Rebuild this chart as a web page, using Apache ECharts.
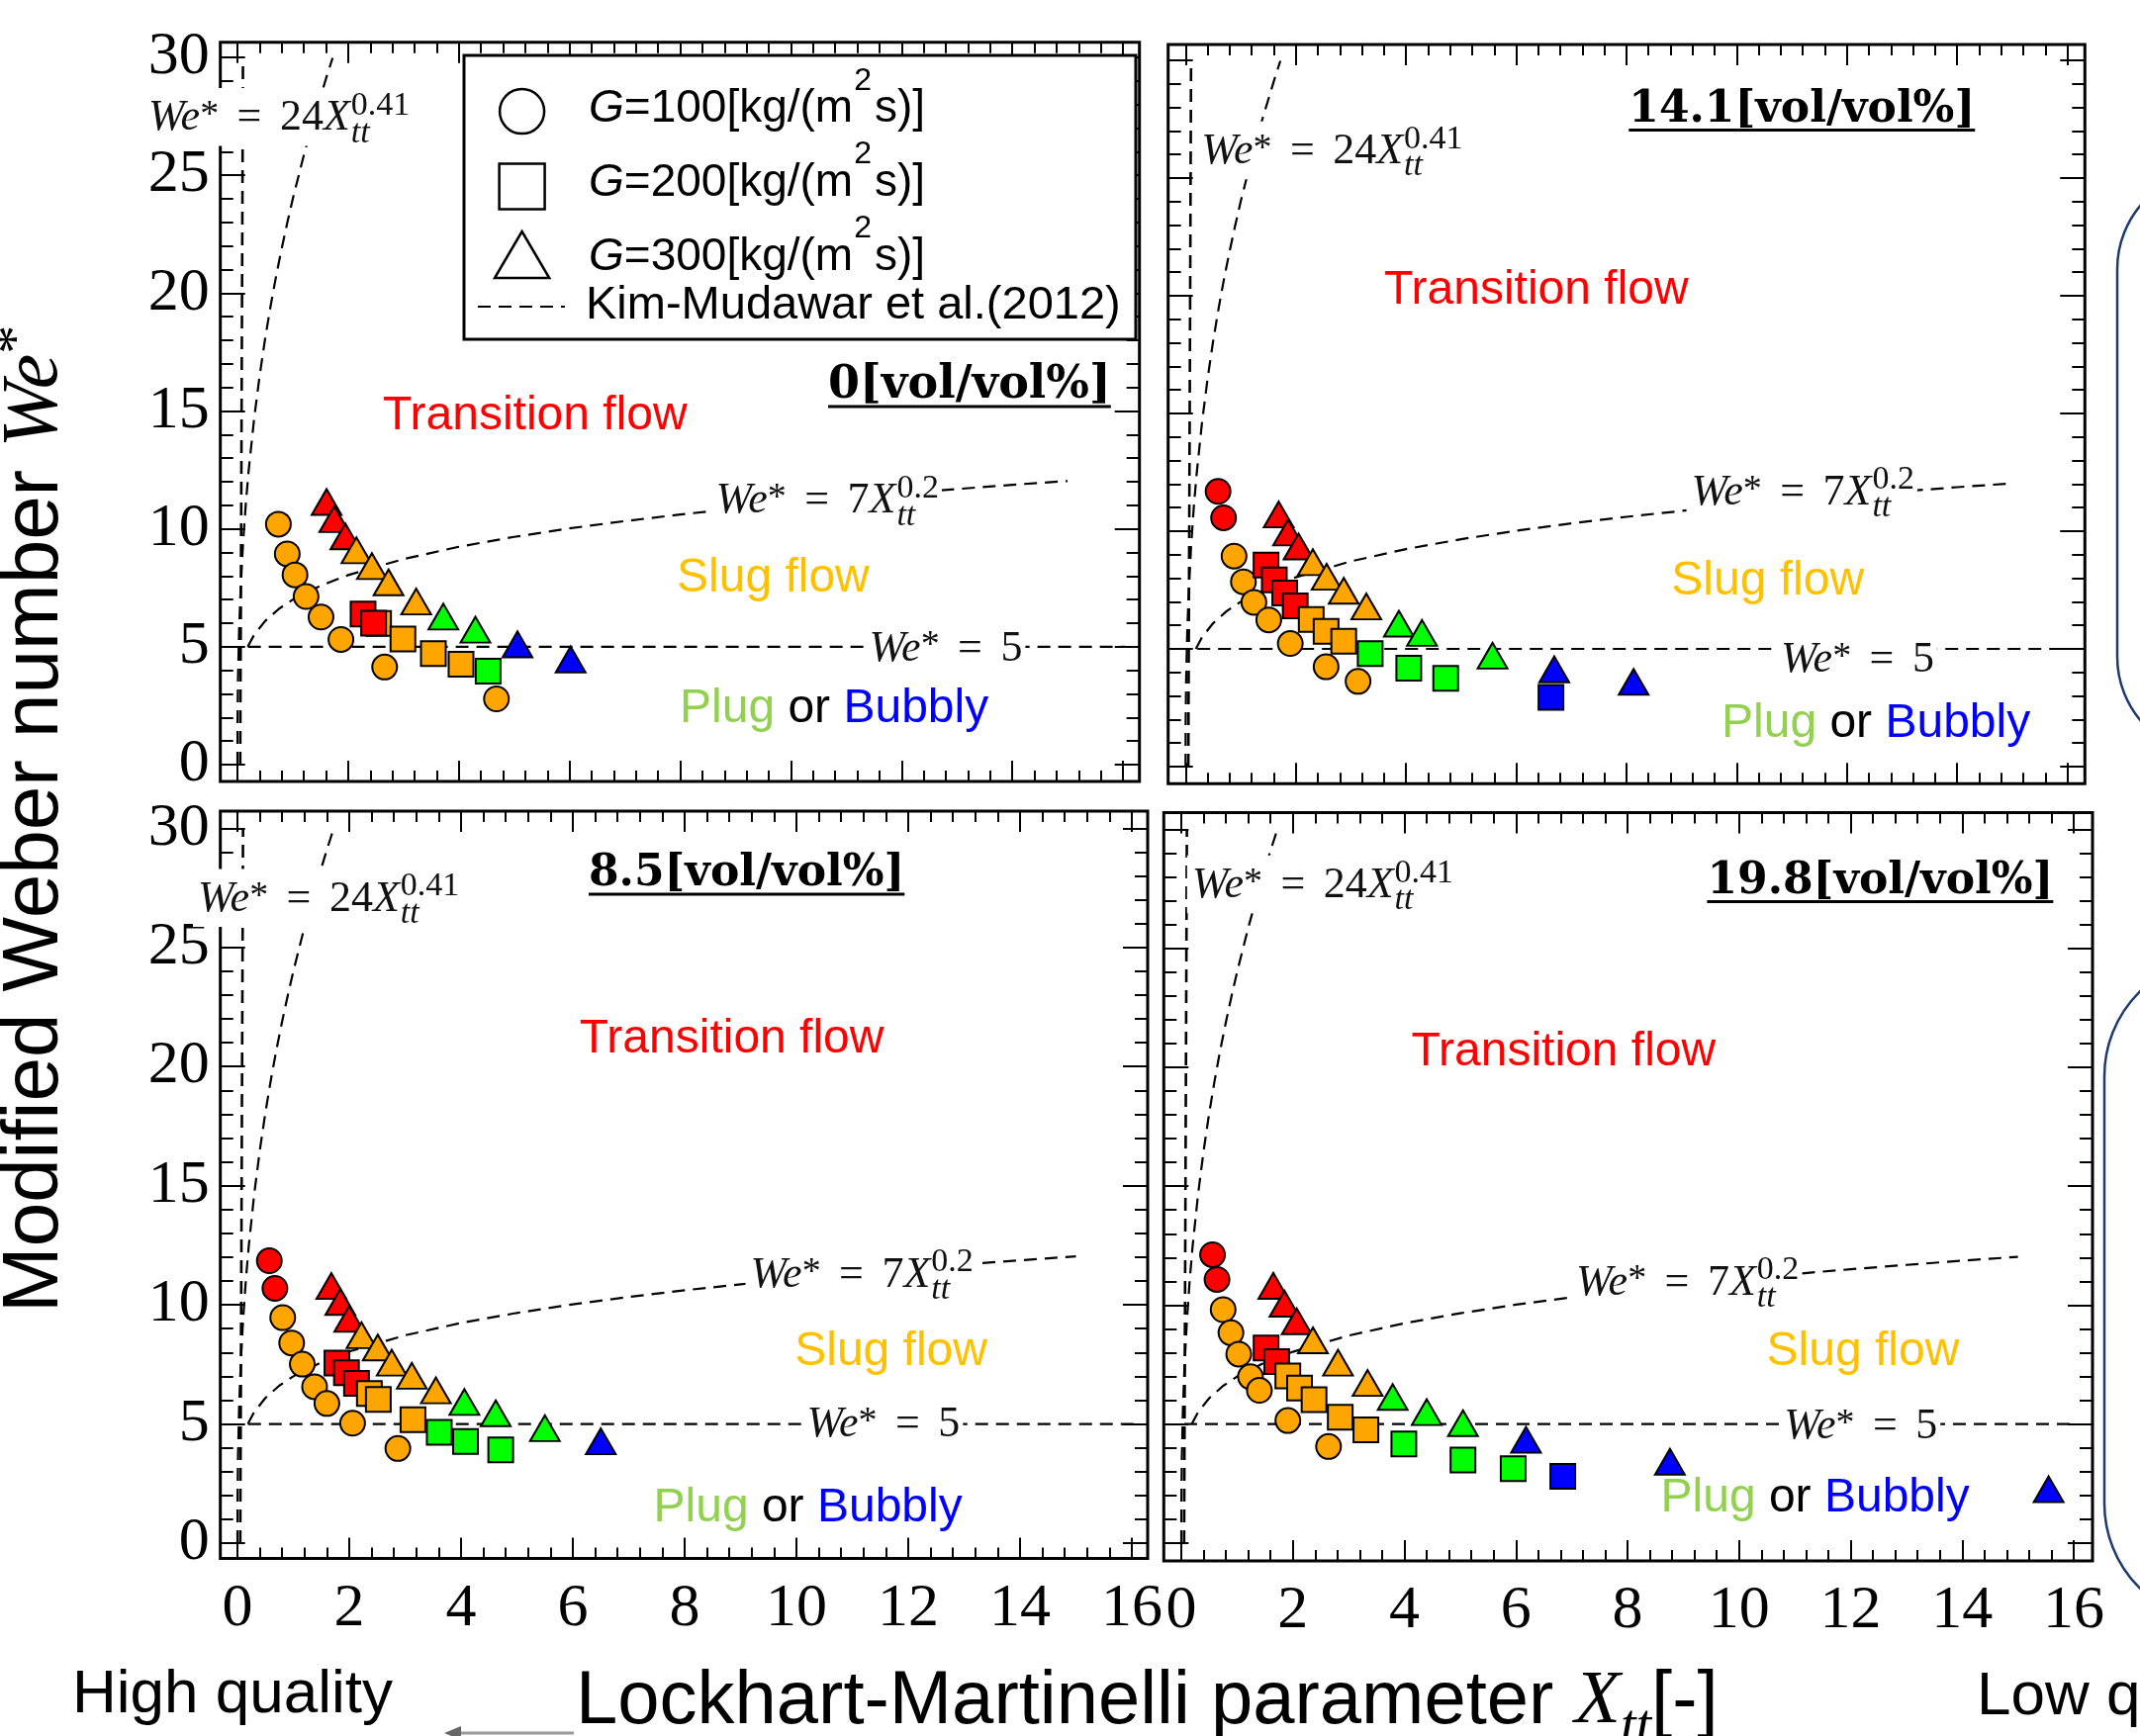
<!DOCTYPE html>
<html>
<head>
<meta charset="utf-8">
<script src="https://cdn.jsdelivr.net/npm/echarts@6.0.0/dist/echarts.min.js"></script>
<style>
html,body{margin:0;padding:0;background:#fff;}
#chart{width:2163px;height:1755px;}
</style>
</head>
<body>
<div id="chart"></div>
<script>
// ---------------- tick labels ----------------
const xTickLabels = [0, 2, 4, 6, 8, 10, 12, 14, 16];
const yTickLabels = [0, 5, 10, 15, 20, 25, 30];

// ---------------- data: [X_tt, We*, regime] ----------------
// regime: T = transition, S = slug, P = plug, B = bubbly
// 0 vol/vol%
const tl_G100 = [[0.74,10.2,'S'],[0.90,8.94,'S'],[1.04,8.05,'S'],[1.24,7.13,'S'],[1.51,6.26,'S'],[1.87,5.31,'S'],[2.66,4.14,'S'],[4.68,2.79,'S']];
const tl_G200 = [[2.55,5.99,'S'],[2.27,6.39,'T'],[2.46,6.00,'T'],[2.99,5.33,'S'],[3.54,4.71,'S'],[4.04,4.26,'S'],[4.53,3.97,'P']];
const tl_G300 = [[1.61,11.14,'T'],[1.75,10.41,'T'],[1.95,9.68,'T'],[2.15,9.09,'S'],[2.43,8.42,'S'],[2.73,7.73,'S'],[3.23,6.92,'S'],[3.72,6.28,'P'],[4.30,5.72,'P'],[5.06,5.10,'B'],[6.02,4.46,'B']];
// 14.1 vol/vol%
const tr_G100 = [[0.59,11.69,'T'],[0.69,10.57,'T'],[0.88,8.94,'S'],[1.05,7.85,'S'],[1.24,6.98,'S'],[1.51,6.23,'S'],[1.90,5.23,'S'],[2.55,4.24,'S'],[3.13,3.62,'S']];
const tr_G200 = [[1.46,8.56,'T'],[1.61,7.93,'T'],[1.80,7.37,'T'],[1.99,6.83,'T'],[2.28,6.25,'S'],[2.55,5.75,'S'],[2.87,5.33,'S'],[3.35,4.80,'P'],[4.05,4.18,'P'],[4.72,3.75,'P'],[6.63,2.94,'B']];
const tr_G300 = [[1.69,10.71,'T'],[1.86,9.94,'T'],[2.05,9.35,'T'],[2.31,8.68,'S'],[2.56,8.06,'S'],[2.87,7.47,'S'],[3.28,6.80,'S'],[3.87,6.07,'P'],[4.29,5.68,'P'],[5.57,4.71,'P'],[6.69,4.13,'B'],[8.13,3.60,'B']];
// 8.5 vol/vol%
const bl_G100 = [[0.57,11.85,'T'],[0.67,10.69,'T'],[0.81,9.46,'S'],[0.97,8.40,'S'],[1.16,7.51,'S'],[1.38,6.56,'S'],[1.60,5.86,'S'],[2.06,5.03,'S'],[2.87,3.97,'S']];
const bl_G200 = [[1.78,7.55,'T'],[1.95,7.15,'T'],[2.13,6.70,'T'],[2.36,6.28,'S'],[2.52,6.03,'S'],[3.14,5.18,'S'],[3.61,4.65,'P'],[4.08,4.27,'P'],[4.71,3.91,'P']];
const bl_G300 = [[1.68,10.79,'T'],[1.84,10.12,'T'],[2.00,9.41,'T'],[2.22,8.72,'S'],[2.51,8.21,'S'],[2.76,7.57,'S'],[3.12,7.02,'S'],[3.55,6.41,'S'],[4.06,5.92,'P'],[4.62,5.45,'P'],[5.50,4.82,'P'],[6.50,4.27,'B']];
// 19.8 vol/vol%
const br_G100 = [[0.56,12.12,'T'],[0.64,11.08,'T'],[0.75,9.81,'S'],[0.89,8.84,'S'],[1.03,7.94,'S'],[1.24,6.99,'S'],[1.40,6.42,'S'],[1.91,5.15,'S'],[2.64,4.06,'S']];
const br_G200 = [[1.52,8.20,'T'],[1.71,7.63,'T'],[1.91,7.03,'S'],[2.12,6.52,'S'],[2.38,6.03,'S'],[2.85,5.29,'S'],[3.31,4.76,'S'],[3.99,4.17,'P'],[5.05,3.49,'P'],[5.95,3.13,'P'],[6.84,2.81,'B']];
const br_G300 = [[1.65,10.81,'T'],[1.85,10.06,'T'],[2.07,9.32,'T'],[2.36,8.52,'S'],[2.81,7.58,'S'],[3.34,6.73,'S'],[3.79,6.14,'P'],[4.40,5.50,'P'],[5.05,5.04,'P'],[6.18,4.34,'B'],[8.76,3.42,'B'],[15.55,2.26,'B']];

// Kim-Mudawar (2012) boundary lines
const kim24 = [[0,0],[0.002,1.88],[0.01,3.63],[0.03,5.70],[0.06,7.57],[0.1,9.34],[0.15,11.03],[0.2,12.41],[0.3,14.65],[0.4,16.48],[0.5,18.07],[0.6,19.47],[0.7,20.74],[0.8,21.90],[0.9,22.98],[1.0,24.0],[1.2,25.86],[1.4,27.55],[1.6,29.10],[1.72,29.98]];
const kim7 = [[0.186,5.0],[0.3,5.50],[0.5,6.09],[0.75,6.61],[1,7.0],[1.5,7.59],[2,8.04],[3,8.72],[4,9.24],[5,9.66],[6,10.02],[7,10.33],[8,10.61],[9,10.86],[10,11.09],[11,11.31],[12,11.51],[13,11.69],[14,11.87],[15,12.03]];
const kimV = [[0.05,0],[0.1,30]];
const tl_we5 = [[0.19,5],[16.3,5]];
const tr_we5 = [[-0.54,5],[16.32,5]];
const bl_we5 = [[0.19,5],[16.28,5]];
const br_we5 = [[-0.32,5],[16.33,5]];

const panelNames = ['0', '14.1', '8.5', '19.8'];
const regimeColor = {T:'#ff0000', S:'#ffa500', P:'#00ff00', B:'#0000ff'};

// ---------------- layout ----------------
const SERIF = 'Liberation Serif', SANS = 'Liberation Sans', DSERIF = 'DejaVu Serif';
const K = 0.30; // middle-to-baseline factor (em)
const ctx = document.createElement('canvas').getContext('2d');
function fontStr(it){ return (it.style||'normal')+' '+(it.weight||'normal')+' '+it.size+'px "'+it.fam+'"'; }
function tw(it){ ctx.font = fontStr(it); return ctx.measureText(it.t).width; }
const gfx = [];
function textEl(it, x, y, rot){
  const e = {type:'text', x:x, y:y, z:12, silent:true,
    style:{text:it.t, fill:it.color||'#000', font:fontStr(it), align:'left', verticalAlign:'middle'}};
  if (rot) e.rotation = rot;
  return e;
}
function run(items, x0, yb){
  let x = x0;
  for (const it of items){
    x += (it.gap||0);
    if (it.stack){
      let w = 0;
      for (const s of it.stack){ gfx.push(textEl(s, x, yb-(s.rise||0)-K*s.size)); w = Math.max(w, tw(s)); }
      x += w;
    } else {
      gfx.push(textEl(it, x, yb-(it.rise||0)-K*it.size));
      x += tw(it);
    }
  }
  return x;
}
function runV(items, xb, y0){
  let y = y0;
  for (const it of items){
    y -= (it.gap||0);
    gfx.push(textEl(it, xb-(it.rise||0)-K*it.size, y, Math.PI/2));
    y -= tw(it);
  }
}
function formula(kind, x0, yb){
  const s = 44, ss = 34, c = '#111';
  const items = [
    {t:'We', size:s, fam:SERIF, style:'italic', color:c},
    {t:'*', size:ss+4, fam:SERIF, rise:0.1*s, color:c},
    {t:'=', size:s, fam:SERIF, gap:0.42*s, color:c},
    {t:kind, size:s, fam:SERIF, gap:0.42*s, color:c}
  ];
  if (kind !== '5'){
    items.push({t:'X', size:s, fam:SERIF, style:'italic', color:c});
    items.push({gap:1, stack:[
      {t:kind==='24'?'0.41':'0.2', size:ss, fam:SERIF, rise:0.36*s, color:c},
      {t:'tt', size:ss, fam:SERIF, style:'italic', rise:-0.27*s, color:c}]});
  }
  const start = gfx.length;
  const x1 = run(items, x0, yb);
  const top = yb - (kind==='5'?0.8:1.0)*s, bot = yb + (kind==='5'?0.22:0.33)*s;
  gfx.splice(start, 0, {type:'rect', z:9, silent:true, shape:{x:x0-5, y:top, width:x1-x0+8, height:bot-top}, style:{fill:'#fff'}});
}

const panels = [
  {grid:[240,58,1135,773], frame:[222.7,42.7,1151.7,790], xl:false, yl:true, d:[tl_G100,tl_G200,tl_G300], we5:tl_we5,
   f24:[150,133], f7:[723.6,520], f5:[878.5,669.3], title:[837,404], tsize:46, trans:[387,435.5], slug:[684,599.6], plug:[687,731]},
  {grid:[1198.3,61,2089.6,775], frame:[1180.7,44.9,2107.3,792.3], xl:false, yl:false, d:[tr_G100,tr_G200,tr_G300], we5:tr_we5,
   f24:[1214.3,166.8], f7:[1709.6,511.6], f5:[1800,680.7], title:[1646.3,124.5], tsize:44, trans:[1399,308.6], slug:[1689.3,602], plug:[1740,746]},
  {grid:[240,837.3,1144,1560], frame:[222.7,820,1160,1575.5], xl:true, yl:true, d:[bl_G100,bl_G200,bl_G300], we5:bl_we5,
   f24:[200,922.4], f7:[758.5,1302.6], f5:[815.4,1454], title:[595,897], tsize:44, trans:[585.8,1065.3], slug:[803.2,1381.6], plug:[660.5,1538.8]},
  {grid:[1194,838.3,2096,1560], frame:[1176.3,821.4,2115,1578], xl:true, yl:false, d:[br_G100,br_G200,br_G300], we5:br_we5,
   f24:[1204.8,908.7], f7:[1593,1310.2], f5:[1803.3,1455.6], title:[1725.4,904.6], tsize:44, trans:[1426.5,1078], slug:[1785.6,1381.6], plug:[1678.5,1529.6]}
];

const grids = [], xAxes = [], yAxes = [], series = [];
const symbols = [['circle',25],['rect',25],['triangle',[30,26]]];

panels.forEach((p, i) => {
  const [gx0, gy30, gx16, gy0] = p.grid;
  const [fx0, fy0, fx1, fy1] = p.frame;
  grids.push({left:gx0, top:gy30, width:gx16-gx0, height:gy0-gy30, containLabel:false, outerBoundsMode:'none'});
  const ax = (isX, lab) => ({
    type:'value', gridIndex:i,
    min: isX ? xTickLabels[0] : yTickLabels[0],
    max: isX ? xTickLabels[xTickLabels.length-1] : yTickLabels[yTickLabels.length-1],
    interval: isX ? xTickLabels[1]-xTickLabels[0] : yTickLabels[1]-yTickLabels[0],
    axisLine:{show:false, onZero:false}, splitLine:{show:false}, minorSplitLine:{show:false},
    axisTick:{show:true, inside:true, length:isX?21:25, lineStyle:{color:'#000', width:2}},
    minorTick:{show:true, splitNumber:5, length:isX?11:13, lineStyle:{color:'#000', width:2}},
    axisLabel:{show:lab, margin:isX?20:11, fontFamily:SERIF, fontSize:62, color:'#000', showMinLabel:true, showMaxLabel:true},
    silent:true
  });
  xAxes.push(Object.assign(ax(true, p.xl), {position:'bottom', offset:fy1-gy0}));
  xAxes.push(Object.assign(ax(true, false), {position:'top', offset:gy30-fy0}));
  yAxes.push(Object.assign(ax(false, p.yl), {position:'left', offset:gx0-fx0}));
  yAxes.push(Object.assign(ax(false, false), {position:'right', offset:fx1-gx16}));
  const xi = 2*i, yi = 2*i;
  [kimV, kim24, kim7, p.we5].forEach((d, k) => series.push({
    type:'line', xAxisIndex:xi, yAxisIndex:yi, data:d, symbol:'none', showSymbol:false, clip:false, silent:true,
    lineStyle:{color:'#000', width:k===0?2.6:2.2, type:[13,8]}, z:1, animation:false
  }));
  p.d.forEach((d, k) => series.push({
    type:'scatter', xAxisIndex:xi, yAxisIndex:yi, data:d, symbol:symbols[k][0], symbolSize:symbols[k][1],
    itemStyle:{color:(q)=>regimeColor[q.data[2]], borderColor:'#000', borderWidth:2, opacity:1},
    emphasis:{disabled:true}, silent:true, z:3, animation:false
  }));
  // frame
  gfx.push({type:'rect', z:5, silent:true, shape:{x:fx0, y:fy0, width:fx1-fx0, height:fy1-fy0}, style:{fill:'none', stroke:'#000', lineWidth:3}});
  // region labels
  run([{t:'Transition flow', size:48, fam:SANS, color:'#ff0000'}], p.trans[0], p.trans[1]);
  run([{t:'Slug flow', size:48, fam:SANS, color:'#ffc000'}], p.slug[0], p.slug[1]);
  run([{t:'Plug ', size:48, fam:SANS, color:'#92d050'},{t:'or ', size:48, fam:SANS, color:'#000'},{t:'Bubbly', size:48, fam:SANS, color:'#0000ff'}], p.plug[0], p.plug[1]);
  // formulas
  formula('24', p.f24[0], p.f24[1]);
  formula('7', p.f7[0], p.f7[1]);
  formula('5', p.f5[0], p.f5[1]);
  // panel title
  const tx1 = run([{t:panelNames[i]+'[vol/vol%]', size:p.tsize, fam:DSERIF, weight:'bold'}], p.title[0], p.title[1]);
  gfx.push({type:'line', z:12, silent:true, shape:{x1:p.title[0], y1:p.title[1]+7, x2:tx1, y2:p.title[1]+7}, style:{stroke:'#000', lineWidth:3}});
});

// ---------------- legend (top-left panel) ----------------
gfx.push({type:'rect', z:8, silent:true, shape:{x:469, y:56, width:679, height:287}, style:{fill:'#fff', stroke:'#000', lineWidth:3}});
gfx.push({type:'circle', z:10, silent:true, shape:{cx:527.6, cy:112.6, r:22.5}, style:{fill:'#fff', stroke:'#000', lineWidth:2.5}});
gfx.push({type:'rect', z:10, silent:true, shape:{x:504.6, y:165.5, width:46, height:46}, style:{fill:'#fff', stroke:'#000', lineWidth:2.5}});
gfx.push({type:'polygon', z:10, silent:true, shape:{points:[[527.6,234],[500,281],[555.2,281]]}, style:{fill:'#fff', stroke:'#000', lineWidth:2.5}});
gfx.push({type:'line', z:10, silent:true, shape:{x1:483, y1:310, x2:571, y2:310}, style:{stroke:'#000', lineWidth:2, lineDash:[13,8]}});
['100','200','300'].forEach((g, k) => {
  run([{t:'G', size:46, fam:SANS, style:'italic'},{t:'='+g+'[kg/(m', size:46, fam:SANS},
       {t:'2', size:32, fam:SANS, rise:33, gap:1},{t:'s)]', size:46, fam:SANS, gap:3}], 595, 124.5 + k*74.6);
});
run([{t:'Kim-Mudawar et al.(2012)', size:47, fam:SANS}], 592, 323.5);

// ---------------- axis titles & side texts ----------------
runV([{t:'Modified Weber number ', size:80, fam:SANS},{t:'We', size:80, fam:SERIF, style:'italic'},{t:'*', size:58, fam:SERIF, rise:24}], 60, 1327);
run([{t:'Lockhart-Martinelli parameter ', size:76, fam:SANS},{t:'X', size:76, fam:SERIF, style:'italic'},
     {t:'tt', size:56, fam:SERIF, style:'italic', rise:-20},{t:'[-]', size:76, fam:SANS}], 582, 1744);
run([{t:'High quality', size:62, fam:SANS}], 73, 1733);
run([{t:'Low quality', size:62, fam:SANS}], 1998, 1735);
gfx.push({type:'line', z:12, silent:true, shape:{x1:462, y1:1752, x2:580, y2:1752}, style:{stroke:'#9a9a9a', lineWidth:3}});
gfx.push({type:'polygon', z:12, silent:true, shape:{points:[[449,1752],[466,1745],[466,1759]]}, style:{fill:'#666'}});

// right-hand rounded boxes (cut off)
gfx.push({type:'rect', z:12, silent:true, shape:{x:2140, y:172, width:300, height:592, r:100}, style:{fill:'none', stroke:'#1f3a70', lineWidth:2.5}});
gfx.push({type:'rect', z:12, silent:true, shape:{x:2127, y:968, width:300, height:672, r:120}, style:{fill:'none', stroke:'#1f3a70', lineWidth:2.5}});

const chart = echarts.init(document.getElementById('chart'), null, {renderer:'canvas', width:2163, height:1755});
chart.setOption({
  backgroundColor:'#fff',
  animation:false,
  grid:grids, xAxis:xAxes, yAxis:yAxes, series:series,
  graphic:{elements:gfx}
});
</script>
</body>
</html>
